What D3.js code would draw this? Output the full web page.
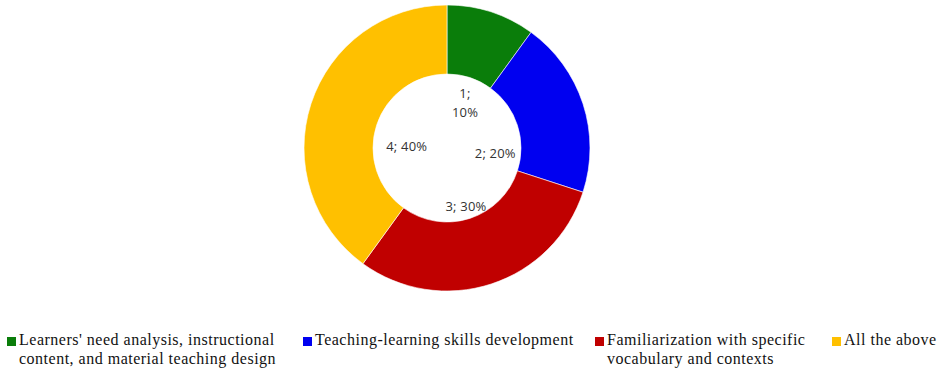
<!DOCTYPE html>
<html>
<head>
<meta charset="utf-8">
<script src="https://cdn.jsdelivr.net/npm/d3@7"></script>
<style>
  html, body { margin: 0; padding: 0; background: #fff; }
  svg { display: block; }
</style>
</head>
<body>
<svg id="chart" width="944" height="370"></svg>
<script>
// Survey answers: count per option and its share of the total
const categories = [
  "Learners' need analysis, instructional content, and material teaching design",
  "Teaching-learning skills development",
  "Familiarization with specific vocabulary and contexts",
  "All the above"
];
const counts = [1, 2, 3, 4];
const percents = [10, 20, 30, 40];
const colors = ["#0a7d0a", "#0000f0", "#c00000", "#ffc000"];

// Legend text broken into lines as it wraps under the chart
const legendLines = [
  ["Learners' need analysis, instructional", "content, and material teaching design"],
  ["Teaching-learning skills development"],
  ["Familiarization with specific", "vocabulary and contexts"],
  ["All the above"]
];

const svg = d3.select("#chart");
const cx = 447, cy = 148;
const outerR = 143, innerR = 74;

const pie = d3.pie().sort(null).value(d => d.pct);
const data = categories.map((c, i) => ({ name: c, count: counts[i], pct: percents[i], color: colors[i] }));
const arcs = pie(data);

const arc = d3.arc().innerRadius(innerR).outerRadius(outerR);

const g = svg.append("g").attr("transform", `translate(${cx},${cy})`);

g.selectAll("path.slice")
  .data(arcs)
  .join("path")
  .attr("class", "slice")
  .attr("d", arc)
  .attr("fill", d => d.data.color)
  .attr("stroke", "#fff")
  .attr("stroke-width", 0.6);

// Data labels sit just inside the hole, nudged off the slice centroid
const labelArc = d3.arc().innerRadius(55).outerRadius(55);
const labelNudge = [[1, 7], [-4, 22], [2, 6], [12, 15]];
const labelFont = "'Open Sans', 'Noto Sans', sans-serif";

arcs.forEach((a, i) => {
  const [x, y] = labelArc.centroid(a);
  const px = x + labelNudge[i][0], py = y + labelNudge[i][1];
  const t = g.append("text")
    .attr("text-anchor", "middle")
    .attr("font-family", labelFont)
    .attr("font-size", 13)
    .attr("letter-spacing", 0.2)
    .attr("fill", "#333");
  const txt = `${a.data.count}; ${a.data.pct}%`;
  if (i === 0) {
    // the narrow first slice wraps its label onto two lines
    t.append("tspan").attr("x", px).attr("y", py - 5).text(`${a.data.count};`);
    t.append("tspan").attr("x", px).attr("y", py + 14).text(`${a.data.pct}%`);
  } else {
    t.attr("x", px).attr("y", py + 4.5).text(txt);
  }
});

// Legend along the bottom
const legendX = [7, 303, 595, 832];
const legendY = 345;
const lineH = 18.5;
const legend = svg.append("g");

legendLines.forEach((lines, i) => {
  const lg = legend.append("g").attr("transform", `translate(${legendX[i]},${legendY})`);
  lg.append("rect")
    .attr("x", 0).attr("y", -8)
    .attr("width", 9).attr("height", 9)
    .attr("fill", colors[i]);
  const t = lg.append("text")
    .attr("font-family", "'Liberation Serif', 'Times New Roman', serif")
    .attr("font-size", 16)
    .attr("letter-spacing", 0.5)
    .attr("fill", "#111");
  lines.forEach((ln, j) => {
    t.append("tspan").attr("x", 12).attr("y", j * lineH).text(ln);
  });
});
</script>
</body>
</html>
